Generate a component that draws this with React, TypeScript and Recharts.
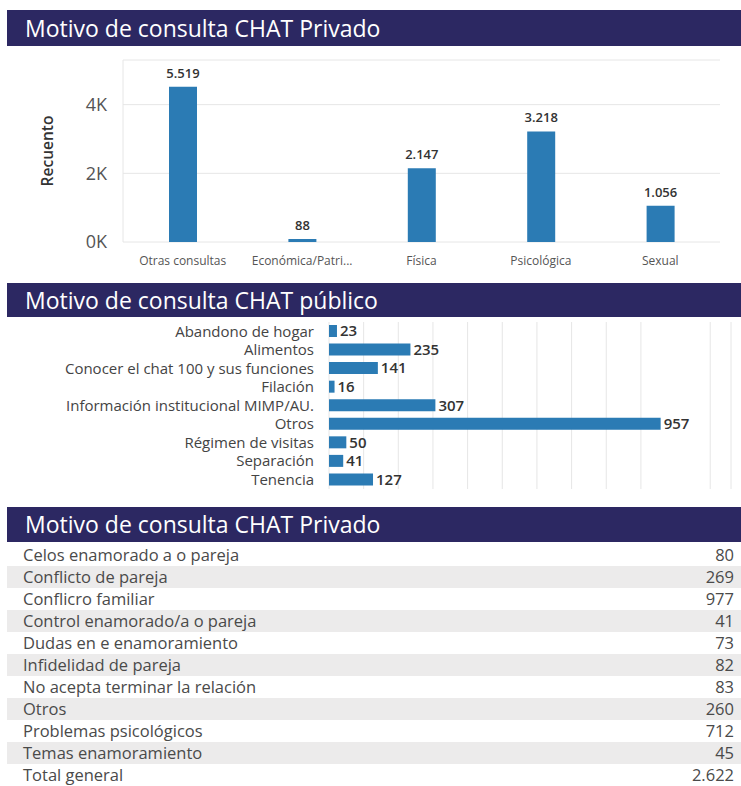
import { BarChart, Bar, XAxis, YAxis, CartesianGrid, LabelList } from "recharts";

const NAVY = "#2c2862";
const BLUE = "#2b7bb4";
const GRID = "#e6e6e6";
const TEXT = "#4a4a4a";

// Chat privado: tipo de violencia
const privadoCategorias = ["Otras consultas", "Económica/Patri...", "Física", "Psicológica", "Sexual"];
const privadoValores = [5519, 88, 2147, 3218, 1056];
const privadoTicks = [0, 2000, 4000];
// en el original la barra de 5.519 aparece recortada a esta altura
const TOPE_BARRA = 4520;

// Chat público
const publicoCategorias = [
  "Abandono de hogar",
  "Alimentos",
  "Conocer el chat 100 y sus funciones",
  "Filación",
  "Información institucional MIMP/AU.",
  "Otros",
  "Régimen de visitas",
  "Separación",
  "Tenencia",
];
const publicoValores = [23, 235, 141, 16, 307, 957, 50, 41, 127];
const publicoTicks = [0, 100, 200, 300, 400, 500, 600, 700, 800, 900, 1000, 1100];

// Tabla chat privado
const tablaMotivos = [
  "Celos enamorado a o pareja",
  "Conflicto de pareja",
  "Conflicro familiar",
  "Control enamorado/a o pareja",
  "Dudas en e enamoramiento",
  "Infidelidad de pareja",
  "No acepta terminar la relación",
  "Otros",
  "Problemas psicológicos",
  "Temas enamoramiento",
  "Total general",
];
const tablaValores = [80, 269, 977, 41, 73, 82, 83, 260, 712, 45, 2622];

function miles(v: number | string): string {
  return String(v).replace(/\B(?=(\d{3})+(?!\d))/g, ".");
}

function Cabecera({ top, height, titulo }: { top: number; height: number; titulo: string }) {
  return (
    <div
      style={{
        position: "absolute",
        left: 7,
        width: 734,
        top,
        height,
        lineHeight: `${height}px`,
        background: NAVY,
        color: "#fff",
        fontSize: 23,
        paddingLeft: 18,
        boxSizing: "border-box",
        whiteSpace: "nowrap",
      }}
    >
      {titulo}
    </div>
  );
}

export default function App() {
  const privado = privadoCategorias.map((c, i) => ({
    categoria: c,
    valor: privadoValores[i],
    barra: Math.min(privadoValores[i], TOPE_BARRA),
  }));
  const publico = publicoCategorias.map((c, i) => ({ categoria: c, valor: publicoValores[i] }));

  return (
    <div
      style={{
        position: "absolute",
        left: 0,
        top: 0,
        width: 741,
        height: 786,
        background: "#fff",
        overflow: "hidden",
        fontFamily: "'Open Sans', sans-serif",
      }}
    >
      <Cabecera top={10} height={36} titulo="Motivo de consulta CHAT Privado" />
      <div style={{ position: "absolute", left: 0, top: 47 }}>
        <BarChart
          width={741}
          height={236}
          data={privado}
          margin={{ top: 13, right: 21, left: 0, bottom: 11 }}
        >
          <CartesianGrid vertical={false} stroke={GRID} />
          <XAxis
            dataKey="categoria"
            interval={0}
            axisLine={false}
            tickLine={false}
            tickMargin={8}
            height={30}
            tick={{ fontSize: 12, fill: "#555" }}
          />
          <YAxis
            domain={[0, 5300]}
            ticks={privadoTicks}
            tickFormatter={(v: number) => `${v / 1000}K`}
            width={123}
            axisLine={{ stroke: GRID }}
            tickLine={false}
            tickMargin={10}
            tick={{ fontSize: 18, fill: "#555" }}
            label={{
              value: "Recuento",
              angle: -90,
              position: "insideLeft",
              offset: 47,
              style: { textAnchor: "middle", fontSize: 15.5, fontWeight: 600, fill: "#333" },
            }}
          />
          <Bar dataKey="barra" fill={BLUE} barSize={28} isAnimationActive={false}>
            <LabelList
              dataKey="valor"
              position="top"
              offset={9}
              formatter={(v: number) => miles(v)}
              style={{ fontSize: 13, fontWeight: 600, fill: "#333" }}
            />
          </Bar>
        </BarChart>
      </div>

      <Cabecera top={283} height={34} titulo="Motivo de consulta CHAT público" />
      <div style={{ position: "absolute", left: 0, top: 317 }}>
        <BarChart
          width={741}
          height={178}
          data={publico}
          layout="vertical"
          margin={{ top: 5, right: 10, left: 0, bottom: 6 }}
        >
          <CartesianGrid horizontal={false} stroke={GRID} />
          <XAxis type="number" domain={[0, 1160]} ticks={publicoTicks} hide />
          <YAxis
            type="category"
            dataKey="categoria"
            width={329}
            interval={0}
            axisLine={false}
            tickLine={false}
            tickMargin={9}
            tick={{ fontSize: 15, fill: "#444" }}
          />
          <Bar dataKey="valor" fill={BLUE} barSize={12} isAnimationActive={false}>
            <LabelList
              dataKey="valor"
              position="right"
              offset={3}
              style={{ fontSize: 15, fontWeight: 600, fill: "#333" }}
            />
          </Bar>
        </BarChart>
      </div>

      <Cabecera top={507} height={35} titulo="Motivo de consulta CHAT Privado" />
      <div style={{ position: "absolute", left: 7, top: 544, width: 734 }}>
        {tablaMotivos.map((m, i) => (
          <div
            key={m}
            style={{
              height: 22,
              lineHeight: "22px",
              display: "flex",
              justifyContent: "space-between",
              paddingLeft: 16,
              paddingRight: 7,
              background: i % 2 === 1 ? "#ecebeb" : "transparent",
              fontSize: 16.5,
              color: TEXT,
            }}
          >
            <span>{m}</span>
            <span>{miles(tablaValores[i])}</span>
          </div>
        ))}
      </div>
    </div>
  );
}
